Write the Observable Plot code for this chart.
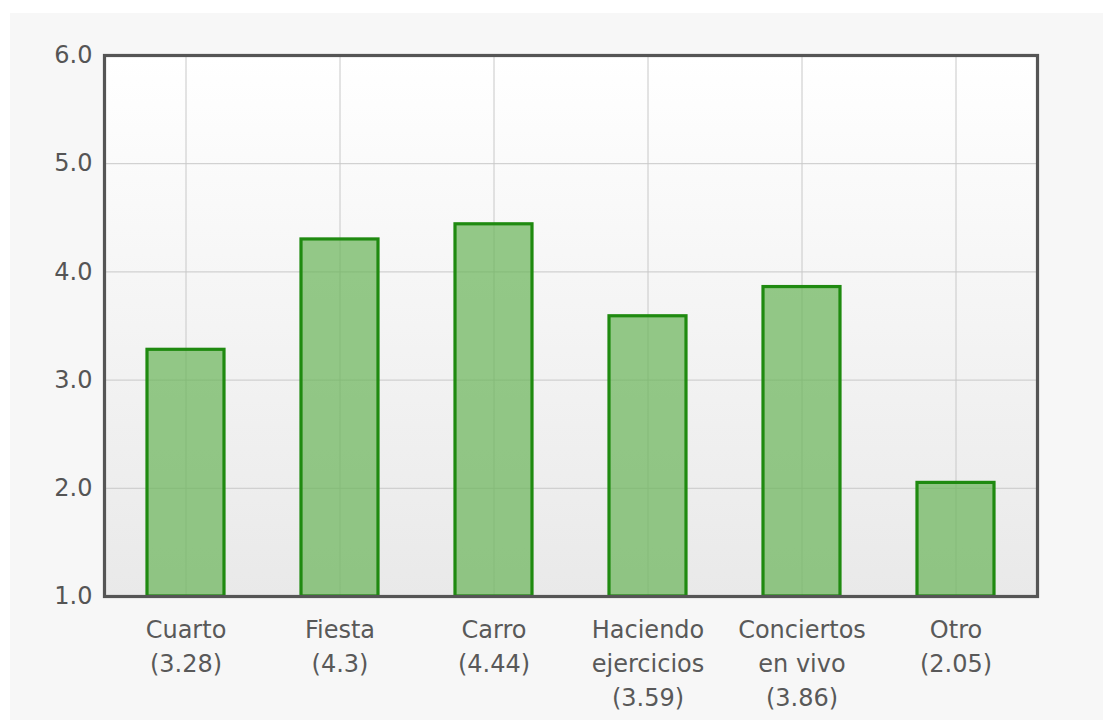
<!DOCTYPE html>
<html>
<head>
<meta charset="utf-8">
<script src="https://cdn.jsdelivr.net/npm/d3@7"></script>
<script src="https://cdn.jsdelivr.net/npm/@observablehq/plot@0.6"></script>
<style>
  html, body { margin: 0; padding: 0; background: #ffffff; }
  #wrap { position: absolute; left: 10px; top: 13px; width: 1093px; height: 707px; background: #f7f7f7; }
  #wrap svg { display: block; }
</style>
</head>
<body>
<div id="wrap"></div>
<script>
const categories = ["Cuarto", "Fiesta", "Carro", "Haciendo ejercicios", "Conciertos en vivo", "Otro"];
const tickLabels = ["Cuarto\n(3.28)", "Fiesta\n(4.3)", "Carro\n(4.44)", "Haciendo\nejercicios\n(3.59)", "Conciertos\nen vivo\n(3.86)", "Otro\n(2.05)"];
const values = [3.28, 4.3, 4.44, 3.59, 3.86, 2.05];
const yTicks = [1, 2, 3, 4, 5, 6];

const data = categories.map((c, i) => ({category: c, value: values[i], label: tickLabels[i]}));
const labelOf = new Map(categories.map((c, i) => [c, tickLabels[i]]));

const chart = Plot.plot({
  width: 1093,
  height: 707,
  marginLeft: 94,
  marginRight: 66,
  marginTop: 42,
  marginBottom: 124,
  style: {fontFamily: "'DejaVu Sans', sans-serif", fontSize: "24px", color: "#555", background: "transparent"},
  x: {domain: categories, paddingInner: 0.5, paddingOuter: 0.27, label: null},
  y: {domain: [1, 6], label: null},
  marks: [
    Plot.frame({fill: "url(#plotgrad)", stroke: "none"}),
    Plot.gridY(yTicks, {stroke: "#c8c8c8", strokeOpacity: 1, strokeWidth: 1}),
    Plot.gridX({stroke: "#c8c8c8", strokeOpacity: 1, strokeWidth: 1}),
    Plot.barY(data, {x: "category", y1: () => 1, y2: "value", fill: "#6cb55c", fillOpacity: 0.72, stroke: "#1f8a10", strokeWidth: 3.2}),
    Plot.axisY(yTicks, {tickSize: 0, tickPadding: 12, tickFormat: d => d.toFixed(1), fill: "#555", fontSize: 24}),
    Plot.axisX({tickSize: 0, tickPadding: 18, tickFormat: d => labelOf.get(d), fill: "#595959", fontSize: 24, lineHeight: 1.4, label: null}),
    Plot.frame({stroke: "#555", strokeWidth: 3.2})
  ]
});

const defs = d3.create("svg:defs");
const grad = defs.append("linearGradient").attr("id", "plotgrad").attr("x1", 0).attr("y1", 0).attr("x2", 0).attr("y2", 1);
grad.append("stop").attr("offset", "0%").attr("stop-color", "#ffffff");
grad.append("stop").attr("offset", "100%").attr("stop-color", "#e9e9e9");
chart.insertBefore(defs.node(), chart.firstChild);

document.getElementById("wrap").appendChild(chart);
</script>
</body>
</html>
